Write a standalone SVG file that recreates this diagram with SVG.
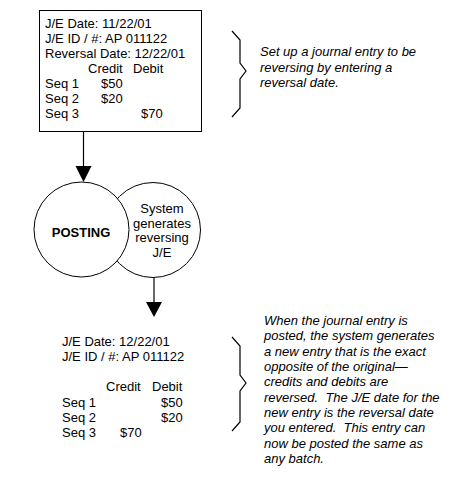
<svg xmlns="http://www.w3.org/2000/svg" width="456" height="480" viewBox="0 0 456 480">
<style>
text{font-family:"Liberation Sans",Arial,sans-serif;font-size:13px;fill:#000;white-space:pre}
.it{font-style:italic}
.b{font-weight:bold}
.m{text-anchor:middle}
.ln{stroke:#000;stroke-width:1.2;fill:none}
.sh{stroke:#000;stroke-width:1;fill:#fff}
</style>
<rect width="456" height="480" fill="#fff"/>
<g id="original-entry">
<rect class="sh" x="39.5" y="10.5" width="162" height="121"/>
<text x="45" y="28">J/E Date: 11/22/01</text>
<text x="45" y="43">J/E ID / #: AP 011122</text>
<text x="45" y="58">Reversal Date: 12/22/01</text>
<text x="88" y="73">Credit</text><text x="133" y="73">Debit</text>
<text x="45" y="88">Seq 1</text><text x="101" y="88">$50</text>
<text x="45" y="103">Seq 2</text><text x="101" y="103">$20</text>
<text x="45" y="118">Seq 3</text><text x="141" y="118">$70</text>
</g>
<g id="note-setup">
<polyline class="ln" points="232,31 240,40 240,63 246,71 240,79 240,108 232,117"/>
<text class="it" x="260" y="56">Set up a journal entry to be</text>
<text class="it" x="260" y="72">reversing by entering a</text>
<text class="it" x="260" y="87">reversal date.</text>
</g>
<g id="system">
<circle class="sh" cx="153" cy="230" r="47.5"/>
<text class="m" x="162" y="213">System</text>
<text class="m" x="162" y="228">generates</text>
<text class="m" x="162" y="242">reversing</text>
<text class="m" x="162" y="257">J/E</text>
</g>
<g id="posting">
<circle class="sh" cx="81.5" cy="229.5" r="47.5"/>
<text class="m b" x="81" y="237">POSTING</text>
</g>
<g id="connectors">
<line class="ln" x1="83.5" y1="132" x2="83.5" y2="166"/>
<polygon points="75.5,166 91.5,166 83.5,182" fill="#000"/>
<line class="ln" x1="154" y1="277.5" x2="154" y2="302"/>
<polygon points="146,302 162,302 154,317" fill="#000"/>
</g>
<g id="reversing-entry">
<text x="62" y="346">J/E Date: 12/22/01</text>
<text x="62" y="361">J/E ID / #: AP 011122</text>
<text x="106" y="391">Credit</text><text x="152" y="391">Debit</text>
<text x="62" y="407">Seq 1</text><text x="161" y="407">$50</text>
<text x="62" y="422">Seq 2</text><text x="161" y="422">$20</text>
<text x="62" y="437">Seq 3</text><text x="120" y="437">$70</text>
</g>
<g id="note-posted">
<polyline class="ln" points="232,337 240,346 240,375 246,383 240,391 240,422 232,431"/>
<text class="it" x="264" y="325">When the journal entry is</text>
<text class="it" x="264" y="340">posted, the system generates</text>
<text class="it" x="264" y="356">a new entry that is the exact</text>
<text class="it" x="264" y="371">opposite of the original—</text>
<text class="it" x="264" y="386">credits and debits are</text>
<text class="it" x="264" y="402" xml:space="preserve">reversed.  The J/E date for the</text>
<text class="it" x="264" y="417">new entry is the reversal date</text>
<text class="it" x="264" y="432" xml:space="preserve">you entered.  This entry can</text>
<text class="it" x="264" y="448">now be posted the same as</text>
<text class="it" x="264" y="463">any batch.</text>
</g>
</svg>
